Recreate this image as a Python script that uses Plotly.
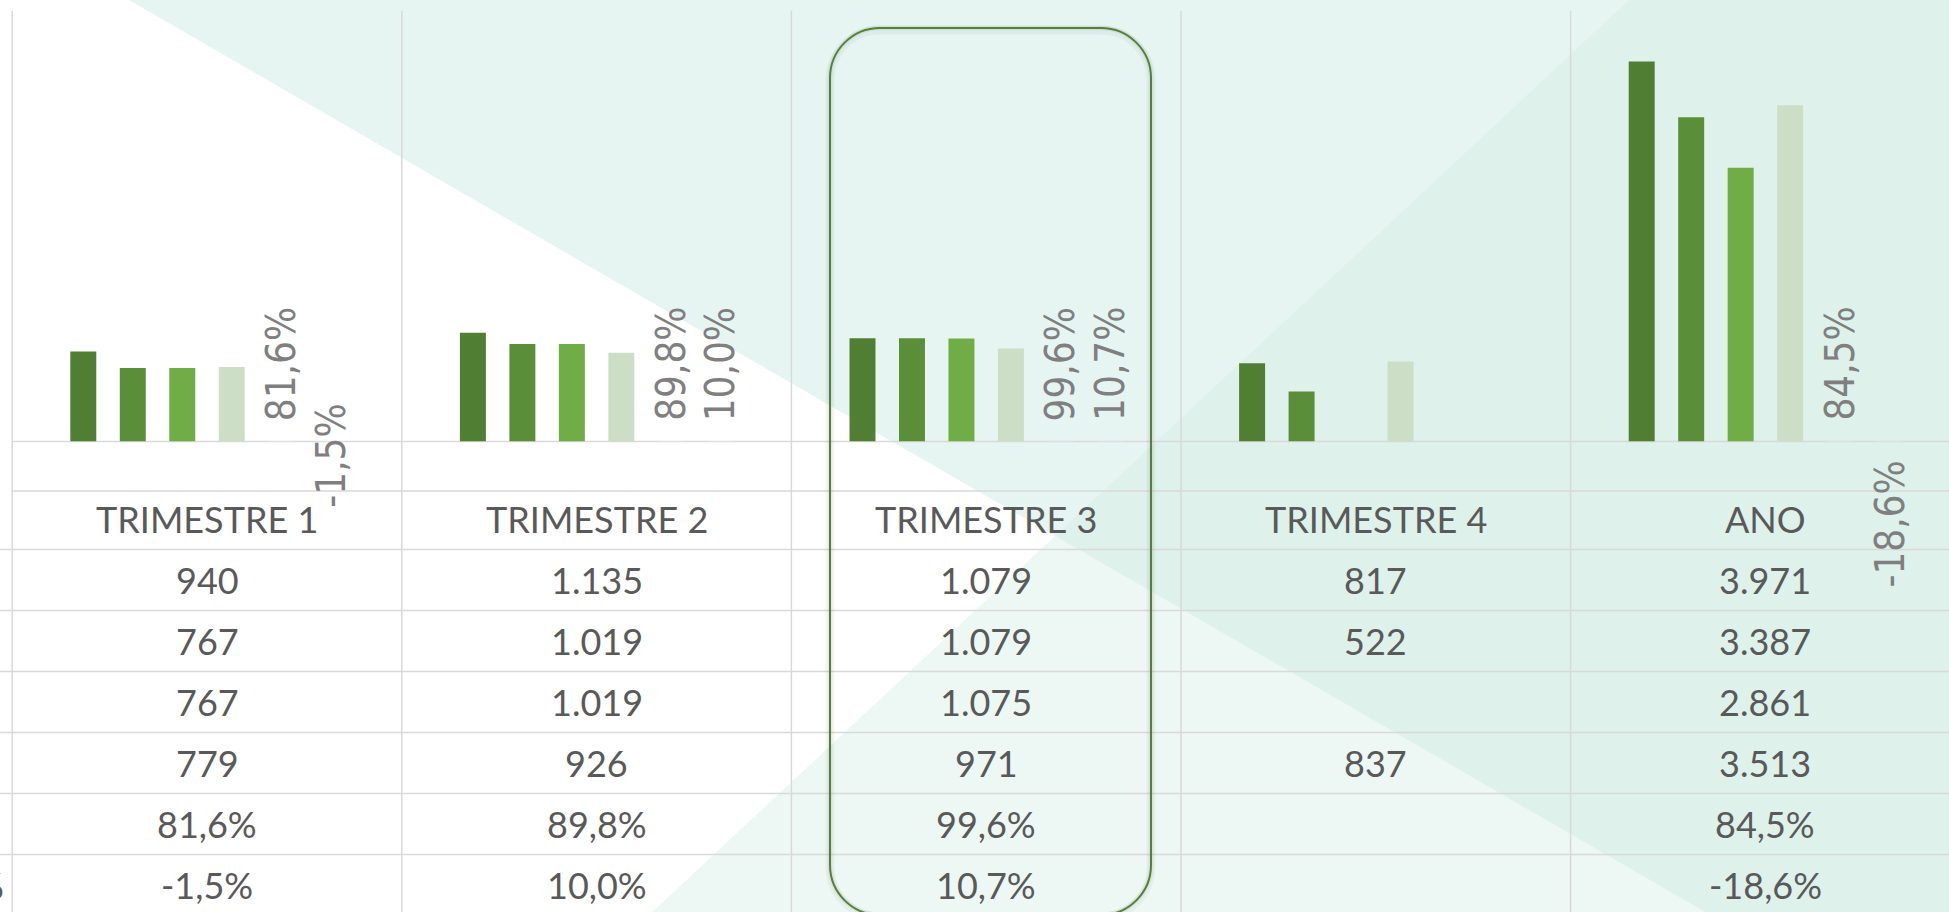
import plotly.graph_objects as go

# ---------------- data ----------------
categories = ["TRIMESTRE 1", "TRIMESTRE 2", "TRIMESTRE 3", "TRIMESTRE 4", "ANO"]
serie_1 = [940, 1135, 1079, 817, 3971]
serie_2 = [767, 1019, 1079, 522, 3387]
serie_3 = [767, 1019, 1075, None, 2861]
serie_4 = [779, 926, 971, 837, 3513]
pct_1 = [81.6, 89.8, 99.6, None, 84.5]
pct_2 = [-1.5, 10.0, 10.7, None, -18.6]

bar_colors = ["#507E32", "#5B8E39", "#70AD47", "#CCDFC6"]

# ---------------- geometry helpers ----------------
W, H = 1949, 912
def px(x):
    return x / W
def py(y):
    return 1 - y / H

BARGAP = 0.238
BARGROUPGAP = 0.475
N_SLOTS = 6

def fmt_int(v):
    return "" if v is None else f"{v:,}".replace(",", ".")

def fmt_pct(v):
    return "" if v is None else f"{v:.1f}%".replace(".", ",")

fig = go.Figure()
xs = list(range(len(categories)))
for i, (vals, col) in enumerate(zip([serie_1, serie_2, serie_3, serie_4], bar_colors)):
    fig.add_trace(go.Bar(x=xs, y=vals, marker=dict(color=col, line=dict(width=0)),
                         name=f"Série {i+1}", showlegend=False, hoverinfo="skip"))
# percent series sit in the same cluster (tiny on the primary scale)
for vals in [pct_1, pct_2]:
    fig.add_trace(go.Bar(x=xs, y=[None if v is None else v / 100 for v in vals],
                         marker=dict(color="rgba(0,0,0,0)"), showlegend=False, hoverinfo="skip"))

# ---------------- background ----------------
shapes = []
def poly(points, color, layer="below"):
    path = "M " + " L ".join(f"{px(x):.5f},{py(y):.5f}" for x, y in points) + " Z"
    return dict(type="path", path=path, xref="paper", yref="paper",
                fillcolor=color, line=dict(width=0), layer=layer)

shapes.append(poly([(129, 0), (W + 5, 0), (W + 5, H + 5), (1714, H + 5)], "#E6F5F2"))
shapes.append(poly([(1629, 0), (W + 5, 0), (W + 5, H + 5), (647, H + 5)], "rgba(212,236,226,0.42)"))

GRID = "#D9D9D9"
# vertical separators
for b in [-0.5, 0.5, 1.5, 2.5, 3.5]:
    shapes.append(dict(type="line", xref="x", yref="paper", x0=b, x1=b,
                       y0=0, y1=py(10.8), line=dict(color=GRID, width=1.5), layer="below"))
# horizontal table lines
row_lines = [441.5, 491, 549.6, 610.6, 671.6, 732.6, 793.5, 854.5]
for k, yl in enumerate(row_lines):
    if k < 2:
        shapes.append(dict(type="line", xref="x", yref="paper", x0=-0.5, x1=5,
                           y0=py(yl), y1=py(yl), line=dict(color=GRID, width=1.5), layer="below"))
    else:
        shapes.append(dict(type="line", xref="paper", yref="paper", x0=0, x1=1,
                           y0=py(yl), y1=py(yl), line=dict(color=GRID, width=1.5), layer="below"))

# rounded highlight around TRIMESTRE 3
def rounded_path(x0, y0, x1, y1, r):
    k = 0.5523 * r
    P = lambda x, y: f"{px(x):.5f},{py(y):.5f}"
    return (f"M {P(x0 + r, y0)} L {P(x1 - r, y0)} "
            f"C {P(x1 - r + k, y0)} {P(x1, y0 + r - k)} {P(x1, y0 + r)} "
            f"L {P(x1, y1 - r)} "
            f"C {P(x1, y1 - r + k)} {P(x1 - r + k, y1)} {P(x1 - r, y1)} "
            f"L {P(x0 + r, y1)} "
            f"C {P(x0 + r - k, y1)} {P(x0, y1 - r + k)} {P(x0, y1 - r)} "
            f"L {P(x0, y0 + r)} "
            f"C {P(x0, y0 + r - k)} {P(x0 + r - k, y0)} {P(x0 + r, y0)} Z")

rr = rounded_path(830, 28, 1151, 915, 50)
shapes.append(dict(type="path", path=rounded_path(830, 30, 1151, 917, 50), xref="paper", yref="paper",
                   line=dict(color="rgba(0,0,0,0.035)", width=9), layer="above"))
shapes.append(dict(type="path", path=rr, xref="paper", yref="paper",
                   line=dict(color="rgba(0,0,0,0.05)", width=5), layer="above"))
shapes.append(dict(type="path", path=rr, xref="paper", yref="paper",
                   line=dict(color="#548235", width=2), layer="above"))

# ---------------- annotations ----------------
ann = []
LABEL_FONT = dict(family="DejaVu Sans Condensed, DejaVu Sans", size=40, color="#7F7F7F")
slot = (1 - BARGAP) / N_SLOTS
def slot_center(k):
    return -(1 - BARGAP) / 2 + slot * (k + 0.5)

for k, vals in [(4, pct_1), (5, pct_2)]:
    for i, v in enumerate(vals):
        if v is None:
            continue
        if v >= 0:
            ya, ys = "bottom", 19.5
        else:
            ya, ys = "top", (38.5 if v > -5 else -18.5)
        ann.append(dict(x=i + slot_center(k), y=0, xref="x", yref="y", text=fmt_pct(v),
                        textangle=-90, showarrow=False, xanchor="center", yanchor=ya,
                        yshift=ys, font=LABEL_FONT, borderpad=0))

TABLE_FONT = dict(family="Lato, Open Sans, sans-serif", size=36, color="#595959")
header_y = 519
row_y = [580.1, 641.1, 702.1, 763.0, 824.0, 884.7]
for i, c in enumerate(categories):
    ann.append(dict(x=i, y=py(header_y), xref="x", yref="paper", text=c, showarrow=False,
                    xanchor="center", yanchor="middle", font=TABLE_FONT))
table_rows = [[fmt_int(v) for v in serie_1], [fmt_int(v) for v in serie_2],
              [fmt_int(v) for v in serie_3], [fmt_int(v) for v in serie_4],
              [fmt_pct(v) for v in pct_1], [fmt_pct(v) for v in pct_2]]
for r, row in enumerate(table_rows):
    for i, t in enumerate(row):
        if t:
            ann.append(dict(x=i, y=py(row_y[r]), xref="x", yref="paper", text=t, showarrow=False,
                            xanchor="center", yanchor="middle", font=TABLE_FONT))
# clipped legend-key text at left edge
ann.append(dict(x=px(5), y=py(row_y[5]), xref="paper", yref="paper", text="%", showarrow=False,
                xanchor="right", yanchor="middle", font=TABLE_FONT, borderpad=0))

# ---------------- layout ----------------
unit = 389.6
x0 = -207 / unit
fig.update_layout(
    width=W, height=H, margin=dict(l=0, r=0, t=0, b=0),
    paper_bgcolor="white", plot_bgcolor="rgba(0,0,0,0)",
    barmode="group", bargap=BARGAP, bargroupgap=BARGROUPGAP,
    xaxis=dict(range=[x0, x0 + W / unit], domain=[0, 1], showgrid=False, zeroline=False,
               showticklabels=False, ticks="", fixedrange=True),
    yaxis=dict(range=[0, 4500], domain=[py(441.5), py(10.8)], showgrid=False, zeroline=False,
               showticklabels=False, ticks="", fixedrange=True),
    shapes=shapes, annotations=ann, showlegend=False,
)

fig.write_html("out.html", config={"displayModeBar": False},
               post_script="document.body.style.margin='0';document.body.style.overflow='hidden';")
